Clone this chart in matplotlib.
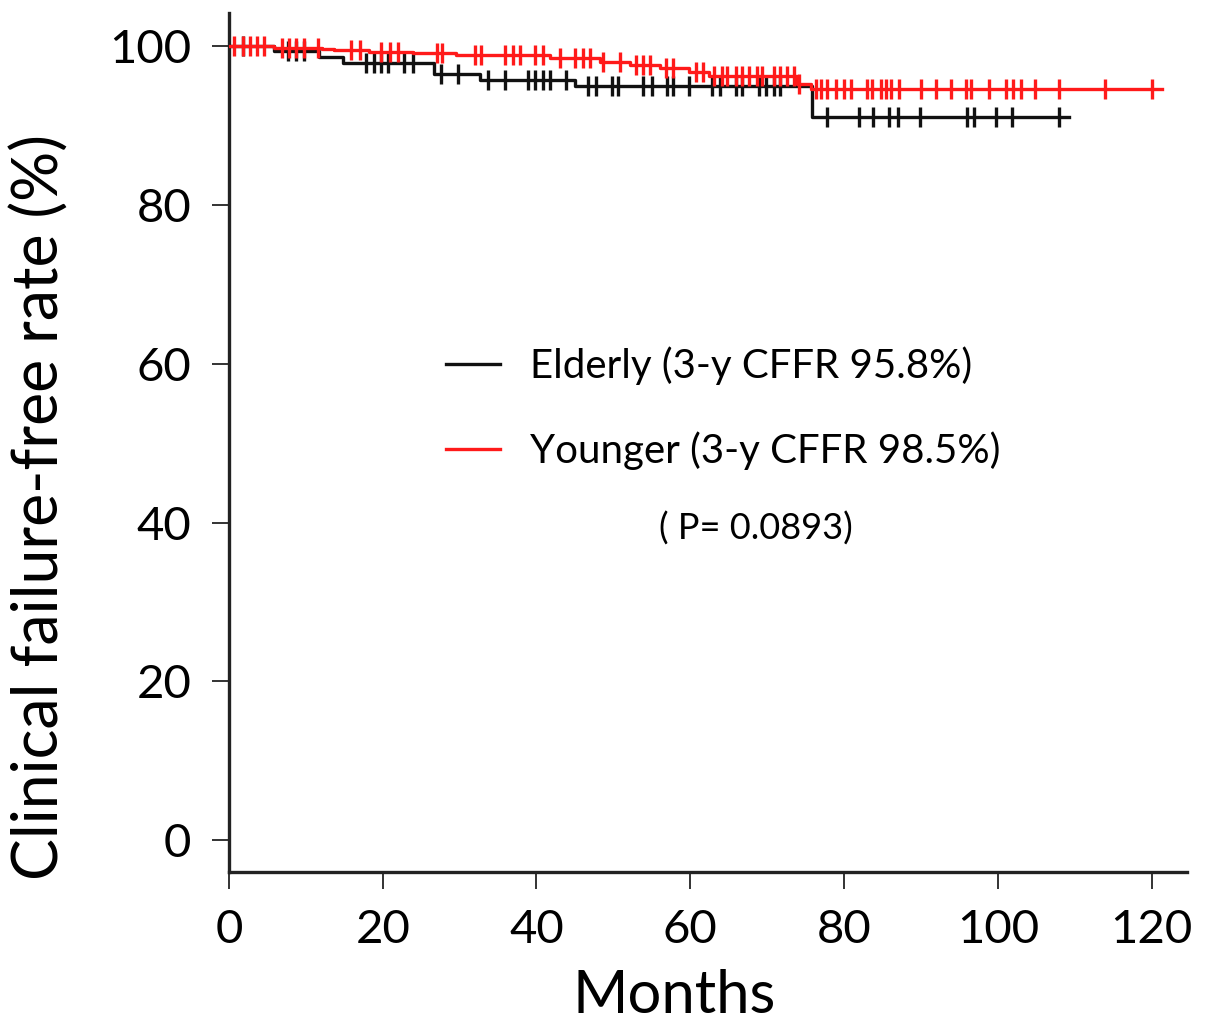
import numpy as np
import matplotlib.pyplot as plt

plt.rcParams["font.family"] = ["Lato", "DejaVu Sans"]

# Kaplan-Meier step data (months, % free of clinical failure)
elderly_times = [0, 5.8, 11.7, 14.8, 26.7, 32.6, 45.0, 75.9]
elderly_surv = [100, 99.4, 98.7, 97.9, 96.5, 95.8, 95.0, 91.1]
elderly_end = 109.2
elderly_censor = [1.8, 7.7, 8.7, 9.8, 17.8, 18.9, 19.8, 20.7, 22.8, 23.9, 27.6,
                  29.8, 33.7, 35.9, 38.9, 39.8, 40.9, 41.7, 43.9, 46.7, 47.8,
                  49.8, 50.6, 53.9, 55.0, 57.0, 57.8, 59.8, 62.8, 63.9, 65.9,
                  66.7, 68.9, 69.8, 70.9, 71.7, 77.8, 82.0, 83.8, 85.9, 87.0,
                  89.9, 96.0, 96.9, 99.8, 101.9, 108.0]

younger_times = [0, 5.9, 12.1, 13.7, 18.2, 23.9, 29.5, 41.7, 48.2, 52.1, 56.0,
                 59.9, 62.5, 73.9, 75.7]
younger_surv = [100, 99.8, 99.7, 99.55, 99.25, 99.1, 98.85, 98.55, 98.0, 97.6,
                97.3, 96.75, 96.3, 95.3, 94.6]
younger_end = 121.3
younger_censor = [0.7, 1.8, 2.7, 3.7, 4.6, 6.9, 7.8, 8.7, 9.8, 11.6, 15.9, 17.0,
                  19.8, 20.9, 22.0, 27.0, 27.7, 32.0, 32.8, 35.9, 37.0, 37.8,
                  39.8, 40.9, 43.0, 45.0, 46.0, 46.9, 48.6, 50.8, 52.9, 53.8,
                  54.8, 56.8, 57.8, 60.7, 61.6, 63.1, 64.1, 64.8, 65.9, 66.7,
                  67.6, 68.7, 69.3, 70.9, 71.7, 72.6, 73.5, 74.1, 76.3, 77.0,
                  77.8, 78.9, 80.0, 80.9, 83.0, 83.7, 84.8, 85.4, 86.1, 87.2,
                  90.0, 92.0, 93.9, 95.9, 96.5, 98.9, 101.1, 102.0, 103.0,
                  104.8, 108.0, 113.9, 120.0]

labels = ["Elderly (3-y CFFR 95.8%)", "Younger (3-y CFFR 98.5%)"]
p_text = "( P= 0.0893)"
x_ticks = [0, 20, 40, 60, 80, 100, 120]
y_ticks = [0, 20, 40, 60, 80, 100]


def draw_km(ax, times, surv, end, censor, color, label, z):
    xs = list(times) + [end]
    ys = list(surv) + [surv[-1]]
    ax.step(xs, ys, where="post", color=color, lw=2.4, label=label, zorder=z)
    idx = np.searchsorted(times, censor, side="right") - 1
    cy = np.asarray(surv)[idx]
    ax.plot(censor, cy, ls="none", marker="|", ms=14, mew=2.4,
            color=color, zorder=z)


def main():
    fig = plt.figure(figsize=(12.05, 10.3), dpi=100)
    ax = fig.add_axes([0.190, 0.1534, 0.795, 0.834])

    draw_km(ax, elderly_times, elderly_surv, elderly_end, elderly_censor,
            "#111111", labels[0], 3)
    draw_km(ax, younger_times, younger_surv, younger_end, younger_censor,
            "#ff1a1a", labels[1], 4)

    ax.set_xlim(0, 124.6)
    ax.set_ylim(-4.0, 104.2)
    ax.set_xticks(x_ticks)
    ax.set_yticks(y_ticks)

    for side in ("top", "right"):
        ax.spines[side].set_visible(False)
    for side in ("left", "bottom"):
        ax.spines[side].set_linewidth(2.4)
        ax.spines[side].set_color("#222222")
    ax.tick_params(direction="out", length=12, width=1.4, color="#333333",
                   labelsize=34, pad=15)

    ax.set_xlabel("Months", fontsize=43)
    ax.set_ylabel("Clinical failure-free rate (%)", fontsize=45)
    ax.xaxis.set_label_coords(0.465, -0.113)
    ax.yaxis.set_label_coords(-0.166, 0.425)

    ax.legend(loc="center left", bbox_to_anchor=(0.2265, 0.540),
              frameon=False, fontsize=29, handlelength=1.34,
              handletextpad=0.74, labelspacing=1.15, borderpad=0,
              borderaxespad=0)
    ax.text(0.550, 0.400, p_text, transform=ax.transAxes, fontsize=26,
            ha="center", va="center")

    fig.savefig("out.png", dpi=100)


if __name__ == "__main__":
    main()
